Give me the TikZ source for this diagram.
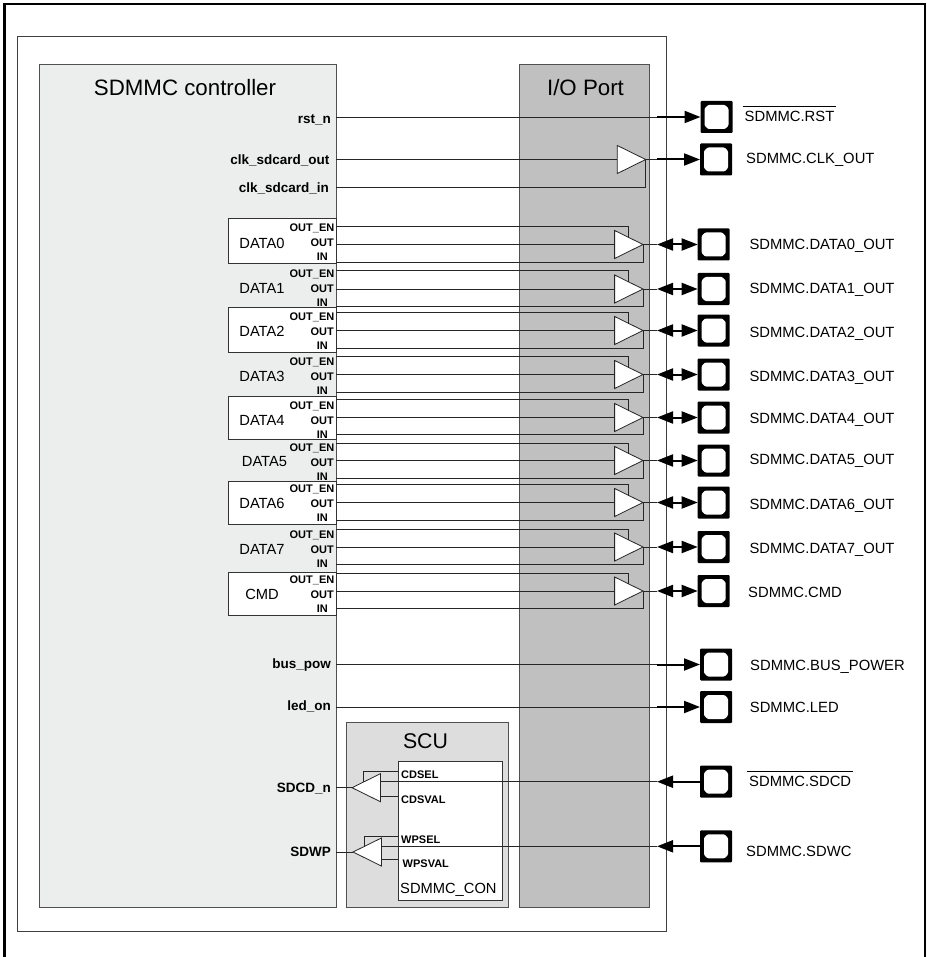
\documentclass[tikz,border=0pt]{standalone}
\usepackage{fontspec}
\setmainfont{Liberation Sans}
\usetikzlibrary{arrows.meta,calc,shapes.geometric}
\newcommand{\barsig}[1]{\vbox{\hrule height 0.6pt \kern 5pt \hbox{\kern2pt#1\kern2pt}}}
\definecolor{ctrlgray}{HTML}{ECEEEE}
\definecolor{portgray}{HTML}{C0C0C0}
\definecolor{scugray}{HTML}{DDDDDD}
\definecolor{edgegray}{HTML}{505050}
\tikzset{
    panel/.style={draw=edgegray, line width=1.1pt, anchor=north west, inner sep=0pt},
    regbox/.style={draw=black!80, line width=0.9pt, fill=white, anchor=north west, inner sep=0pt},
    wire/.style={line width=0.8pt, black!85},
    flow/.style={-{Triangle[length=16pt,width=12pt]}, line width=2pt},
    biflow/.style={{Triangle[length=16pt,width=12pt]}-{Triangle[length=16pt,width=12pt]}, line width=2pt},
    buf/.style={isosceles triangle, isosceles triangle stretches, draw=black!85,
                line width=0.8pt, fill=white, inner sep=0pt, outer sep=0pt,
                minimum width=28pt, minimum height=28.4pt, anchor=apex},
    bufleft/.style={buf, shape border rotate=180},
    pad/.style={fill=black, rounded corners=1pt, minimum size=32pt, inner sep=0pt, outer sep=0pt,
                path picture={\fill[white] (path picture bounding box.center)
                    ++(-12,-8.5) -- ++(0,17) -- ++(3.5,3.5) -- ++(17,0) -- ++(3.5,-3.5)
                    -- ++(0,-17) -- ++(-3.5,-3.5) -- ++(-17,0) -- cycle;}},
    titletext/.style={font=\fontsize{22.3}{24}\selectfont, inner sep=0pt},
    nametext/.style={font=\fontsize{14.7}{16}\selectfont, inner sep=0pt},
    signame/.style={font=\fontsize{14.8}{16}\selectfont, inner sep=0pt, anchor=base west},
    portname/.style={font=\bfseries\fontsize{13.5}{15}\selectfont, inner sep=0pt,
                     text height=9.5pt, text depth=0pt, anchor=east},
    pinname/.style={font=\bfseries\fontsize{11}{12}\selectfont, inner sep=0pt,
                    text height=8pt, text depth=0pt, anchor=east},
    regname/.style={pinname, anchor=west},
}

\begin{document}
\begin{tikzpicture}[x=1pt, y=-1pt]
    \path[use as bounding box] (0,0) rectangle (926,957);

    % frames and blocks
    \draw[line width=2.2pt] (4.5,957) -- (4.5,4) -- (925,4) -- (925,957);
    \node[draw=black!75, line width=0.9pt, anchor=north west, inner sep=0pt,
          minimum width=649pt, minimum height=894pt] (chip) at (17,36.5) {};
    \node[panel, fill=ctrlgray, minimum width=297pt, minimum height=843pt] (ctrl) at (39,64) {};
    \node[panel, fill=portgray, minimum width=130pt, minimum height=843pt] (port) at (519,64) {};
    \node[panel, fill=scugray, minimum width=162pt, minimum height=184.5pt] (scu) at (346,722.3) {};
    \node[regbox, minimum width=103.5pt, minimum height=139pt] (con) at (398,761) {};
    \node[titletext] (ctrltitle) at (185,88) {SDMMC controller};
    \node[titletext] (porttitle) at (585.5,88) {I/O Port};
    \node[titletext, font=\fontsize{21.3}{24}\selectfont] (scutitle) at (425.5,741) {SCU};
    \node[nametext, anchor=west] (conname) at (400,890) {SDMMC\_CON};

    % white register boxes behind the data rows
    \foreach \nm/\ytop/\high in {DATA0/218/45, DATA2/307/45, DATA4/396/43, DATA6/481/43, CMD/572/43}
        \node[regbox, minimum width=108.5pt, minimum height=\high pt] (reg\nm) at (227.5,\ytop) {};

    % data rows: name, OUT_EN, OUT, IN, label y, label x, text x, text baseline, text
    \foreach \nm/\ye/\yo/\yi/\ly/\lx/\sx/\yb/\sig in {
        DATA0/226.7/244.5/262/243/262/749.3/250/DATA0\_OUT,
        DATA1/270.7/289/306.7/288/262/749.3/294/DATA1\_OUT,
        DATA2/312/330.5/348/331/262/749.3/337.5/DATA2\_OUT,
        DATA3/356.7/374.5/392/376/262/749.3/381.5/DATA3\_OUT,
        DATA4/399/417.5/434/420/262/749.3/423.5/DATA4\_OUT,
        DATA5/443/460.5/478/462/264.5/749.3/464.5/DATA5\_OUT,
        DATA6/484/502.5/520/503.5/262/749.3/509.5/DATA6\_OUT,
        DATA7/529/547/564/549/262/749.3/553.5/DATA7\_OUT,
        CMD/573/591/608.7/594/262/748/597.5/CMD}
    {
        \coordinate (en\nm) at (336,\ye);
        \coordinate (out\nm) at (336,\yo);
        \coordinate (in\nm) at (336,\yi);
        \coordinate (tap\nm) at (657,\yo);
        \node[pad] (pad\nm) at (713.7,\yo) {};
        \node[buf] (buf\nm) at (643,\yo) {};
        \draw[wire] (out\nm) -- (buf\nm.west);
        \draw[wire] (en\nm) -| ($(buf\nm.apex)!0.5!(buf\nm.left corner)$);
        \draw[wire] (buf\nm.apex) |- (in\nm);
        \draw[wire] (buf\nm.apex) -- (tap\nm);
        \draw[biflow] (tap\nm) -- (pad\nm.west);
        \node[nametext] (lab\nm) at (\lx,\ly) {\nm};
        \node[pinname] (lab\nm en) at (334.5,\ly-15) {OUT\_EN};
        \node[pinname] (lab\nm out) at (334,\ly) {OUT};
        \node[pinname] (lab\nm in) at (328,\ly+14) {IN};
        \node[signame] (sig\nm) at (\sx,\yb) {SDMMC.\sig};
    }

    % plain outputs
    \foreach \nm/\yo/\px in {RST/117/716.5, BUSPOW/664.5/716, LED/707/716} {
        \coordinate (out\nm) at (336,\yo);
        \coordinate (tap\nm) at (657,\yo);
        \node[pad] (pad\nm) at (\px,\yo) {};
        \draw[wire] (out\nm) -- (tap\nm);
        \draw[flow] (tap\nm) -- (pad\nm.west);
    }
    \node[portname] (labrst) at (331,118.5) {rst\_n};
    \node[portname] (labbus) at (331,664) {bus\_pow};
    \node[portname] (labled) at (331,706) {led\_on};
    \node[signame] (sigRST) at (742.5,122) {\barsig{SDMMC.RST}};
    \node[signame] (sigBUS) at (750,670) {SDMMC.BUS\_POWER};
    \node[signame] (sigLED) at (749.7,712) {SDMMC.LED};

    % clock
    \coordinate (outCLK) at (336,159.5);
    \coordinate (inCLK) at (336,187);
    \coordinate (tapCLK) at (657,159.5);
    \node[pad] (padCLK) at (716,159.5) {};
    \node[buf] (bufCLK) at (645.7,159.5) {};
    \draw[wire] (outCLK) -- (bufCLK.west);
    \draw[wire] (bufCLK.apex) |- (inCLK);
    \draw[wire] (bufCLK.apex) -- (tapCLK);
    \draw[flow] (tapCLK) -- (padCLK.west);
    \node[portname] (labclkout) at (329.5,159.5) {clk\_sdcard\_out};
    \node[portname] (labclkin) at (329,187.5) {clk\_sdcard\_in};
    \node[signame] (sigCLK) at (746,164) {SDMMC.CLK\_OUT};

    % card detect and write protect
    \foreach \nm/\ya/\ys/\yp/\yv/\ax/\bx/\port/\selname/\valname/\sely/\valy/\valx in {
        SDCD/787.7/771.7/781.7/796/352/380/SDCD\_n/CDSEL/CDSVAL/774.5/799/401,
        SDWC/852/836.3/846.3/859.3/353/381.7/SDWP/WPSEL/WPSVAL/839.5/863/402.5}
    {
        \coordinate (pin\nm) at (336,\ya);
        \coordinate (sel\nm) at (398,\ys);
        \coordinate (val\nm) at (398,\yv);
        \coordinate (valin\nm) at (\bx,\yv);
        \coordinate (wirein\nm) at (\bx,\yp);
        \coordinate (tap\nm) at (657,\yp);
        \node[pad] (pad\nm) at (716,\yp) {};
        \node[bufleft] (buf\nm) at (\ax,\ya) {};
        \draw[wire] (buf\nm.apex) -- (pin\nm);
        \draw[wire] (sel\nm) -| ($(buf\nm.apex)!0.39!(buf\nm.right corner)$);
        \draw[wire] (val\nm) -- (valin\nm);
        \draw[wire] (tap\nm) -- (wirein\nm);
        \draw[flow] (pad\nm.west) -- (tap\nm);
        \node[portname] (lab\nm) at (331,\ya) {\port};
        \node[regname] (lab\nm sel) at (401,\sely) {\selname};
        \node[regname] (lab\nm val) at (\valx,\valy) {\valname};
    }
    \node[signame] (sigSDCD) at (747,786.7) {\barsig{SDMMC.SDCD}};
    \node[signame] (sigSDWC) at (746,856) {SDMMC.SDWC};
\end{tikzpicture}
\end{document}
